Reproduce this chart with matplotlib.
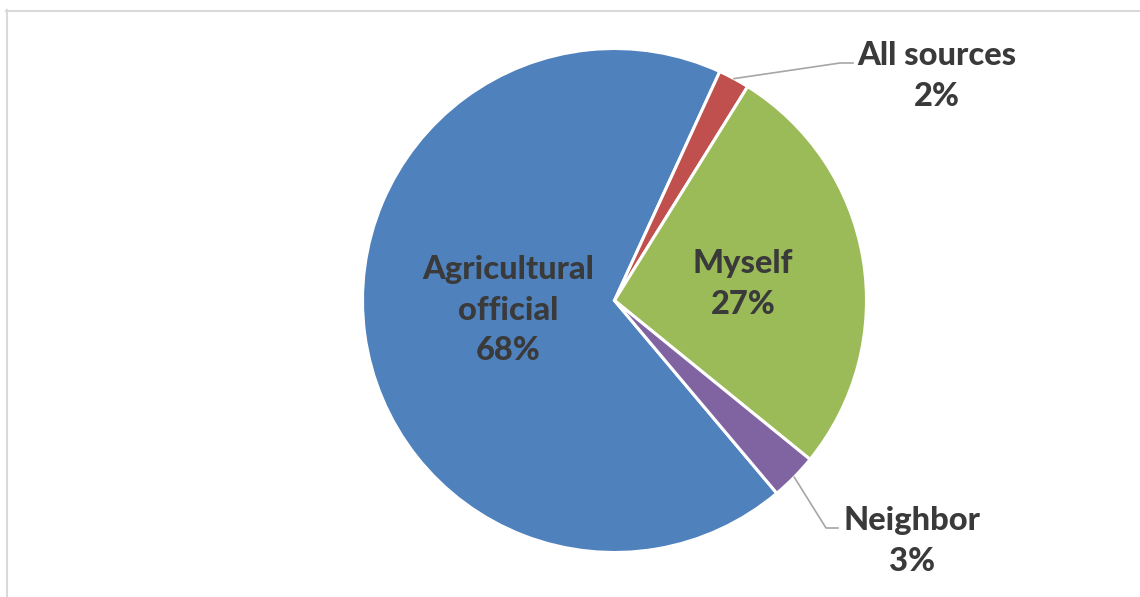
import matplotlib.pyplot as plt
from matplotlib.lines import Line2D
import numpy as np

plt.rcParams["font.family"] = ["Lato", "DejaVu Sans"]

categories = ["Agricultural\nofficial", "All sources", "Myself", "Neighbor"]
shares = [68, 2, 27, 3]
colors = ["#4F81BD", "#C0504D", "#9BBB59", "#8064A2"]

W, H = 1140, 597
CX, CY, R = 614.5, 300.5, 252.0
TEXT = "#3A3A3A"


def px(x, y):
    # pixel position on the canvas -> pie data coordinates (radius 1)
    return (x - CX) / R, (CY - y) / R


fig = plt.figure(figsize=(W / 100, H / 100), dpi=100)
ax = fig.add_axes([(CX - R) / W, (H - CY - R) / H, 2 * R / W, 2 * R / H])
wedges, _ = ax.pie(
    shares,
    colors=colors,
    startangle=-49.9,
    counterclock=False,
    radius=1,
    wedgeprops=dict(edgecolor="white", linewidth=2.2),
)
ax.set_xlim(-1, 1)
ax.set_ylim(-1, 1)
ax.set_aspect("equal")
ax.axis("off")

fs = 23.5
style = dict(ha="center", va="center", fontsize=fs, fontweight="black",
             color=TEXT, linespacing=1.5, clip_on=False)

# labels inside the two large slices
inside = {0: (508, 310), 2: (743, 284)}
for i, (x, y) in inside.items():
    ax.text(*px(x, y), f"{categories[i]}\n{shares[i]}%", **style)

# outside labels with leader lines
outside = {1: ((937, 76), [(840, 63), (853, 63)]),
           3: ((912, 541), [(826, 528), (838, 528)])}
for i, ((tx, ty), elbow) in outside.items():
    w = wedges[i]
    mid = np.deg2rad((w.theta1 + w.theta2) / 2)
    pts = [(np.cos(mid), np.sin(mid))] + [px(x, y) for x, y in elbow]
    xs, ys = zip(*pts)
    ax.plot(xs, ys, color="#A6A6A6", linewidth=1.2, clip_on=False)
    ax.text(*px(tx, ty), f"{categories[i]}\n{shares[i]}%", **style)

# chart area border (top and left edges visible)
fig.add_artist(Line2D([6 / W, 1], [1 - 10.5 / H, 1 - 10.5 / H],
                      transform=fig.transFigure, color="#D9D9D9", linewidth=1.5))
fig.add_artist(Line2D([6.5 / W, 6.5 / W], [0, 1 - 10 / H],
                      transform=fig.transFigure, color="#D9D9D9", linewidth=1.5))

fig.savefig("out.png", dpi=100, facecolor="white")
